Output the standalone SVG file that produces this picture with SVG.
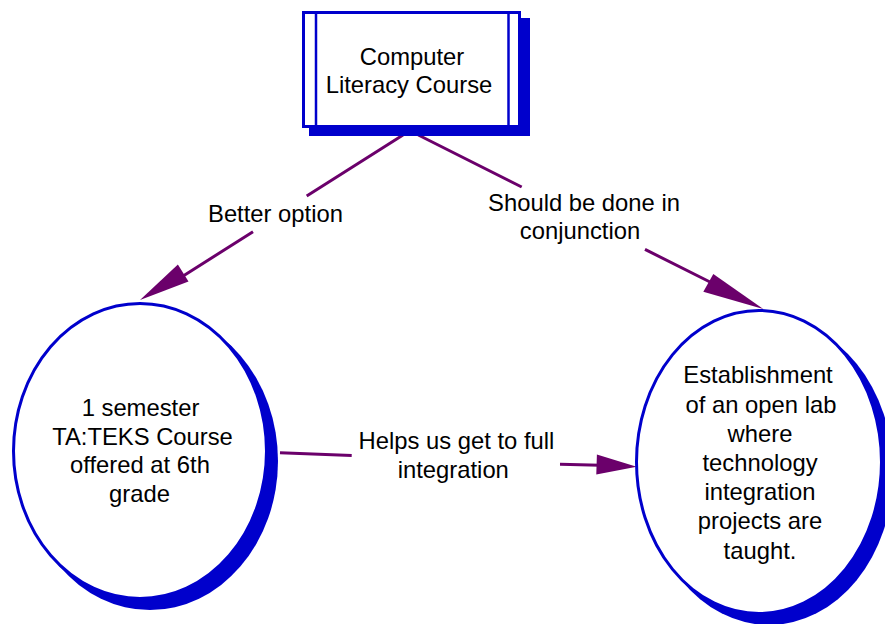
<svg xmlns="http://www.w3.org/2000/svg" width="885" height="624" viewBox="0 0 885 624">
<style>
.shadow{fill:#0000CC;stroke:none}
.shape{fill:#FFFFFF;stroke:#0000CC;stroke-width:3}
.edge{fill:none;stroke:#6B006B;stroke-width:3}
.head{fill:#6B006B;stroke:none}
text{font-family:"Liberation Sans",Arial,sans-serif;font-size:23.8px;fill:#000000;text-anchor:middle}
</style>
<rect width="885" height="624" fill="#FFFFFF"/>
<g id="connectors">
<path class="edge" d="M403,135 L306.7,196 M253,231.7 L180,278"/>
<polygon class="head" points="140,300 177.9,264.4 188.5,281.4"/>
<path class="edge" d="M418.3,135 L521.7,187 M645,249.4 L712,283"/>
<polygon class="head" points="763.3,309 713.3,274 703.3,291.7"/>
<path class="edge" d="M280,452.7 L351.7,455.5 M560,464.3 L600,465.2"/>
<polygon class="head" points="636.7,466.7 596.9,454.5 596.3,474.5"/>
<text x="275.5" y="221.7">Better option</text>
<text x="584" y="210.7">Should be done in</text>
<text x="580" y="239.2">conjunction</text>
<text x="456.5" y="449.3">Helps us get to full</text>
<text x="453.3" y="478.3">integration</text>
</g>
<g id="node-computer-literacy">
<rect class="shadow" x="309" y="18" width="221" height="118"/>
<rect class="shape" x="303.5" y="12.5" width="216" height="114"/>
<line x1="316" y1="12.5" x2="316" y2="126.5" stroke="#0000CC" stroke-width="2.5"/>
<line x1="508.5" y1="12.5" x2="508.5" y2="126.5" stroke="#0000CC" stroke-width="2.5"/>
<text x="412" y="65">Computer</text>
<text x="409" y="93">Literacy Course</text>
</g>
<g id="node-ta-teks">
<ellipse class="shadow" cx="150" cy="461" rx="128" ry="149"/>
<ellipse class="shape" cx="140" cy="451" rx="126.5" ry="147.5"/>
<text x="140.5" y="416">1 semester</text>
<text x="142.5" y="444.5">TA:TEKS Course</text>
<text x="140" y="473">offered at 6th</text>
<text x="139.5" y="501.5">grade</text>
</g>
<g id="node-open-lab">
<ellipse class="shadow" cx="769" cy="472" rx="124" ry="153"/>
<ellipse class="shape" cx="759" cy="462" rx="122.5" ry="151.5"/>
<text x="758" y="383.3">Establishment</text>
<text x="761" y="412.5">of an open lab</text>
<text x="760" y="441.7">where</text>
<text x="760" y="470.9">technology</text>
<text x="760" y="500.1">integration</text>
<text x="760" y="529.3">projects are</text>
<text x="760" y="558.5">taught.</text>
</g>
</svg>
